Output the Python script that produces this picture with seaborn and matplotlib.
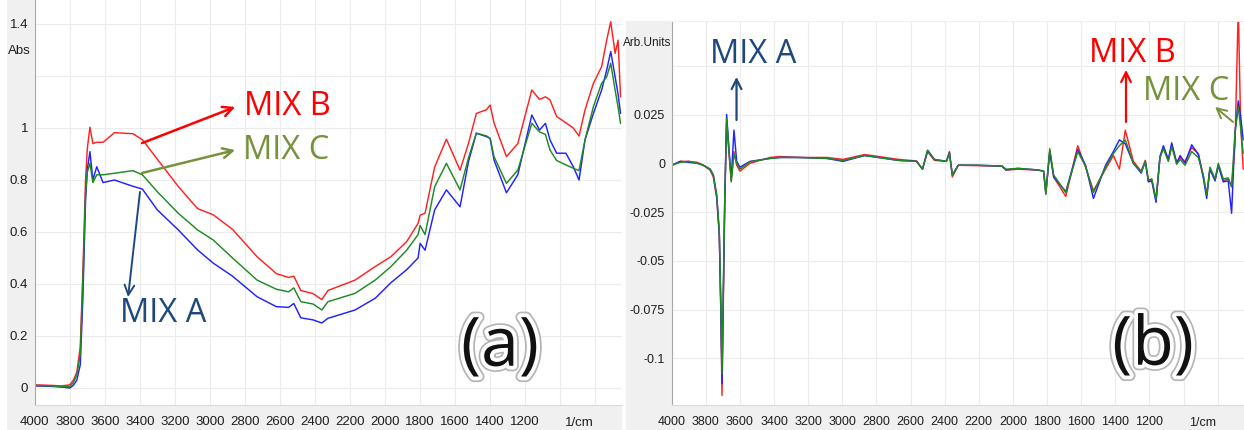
import matplotlib

matplotlib.use("Agg")
import matplotlib.patheffects as pe
import matplotlib.pyplot as plt
import pandas as pd
import seaborn as sns
from matplotlib.patches import Rectangle
from matplotlib.ticker import FixedFormatter, FixedLocator, MultipleLocator

# (a) absorbance spectra
ABS_WAVENUMBER = [
    4000, 3900, 3850, 3800, 3780, 3760, 3740, 3725, 3710, 3700, 3685, 3668, 3646,
    3610, 3545, 3440, 3385, 3300, 3180, 3070, 2980, 2870, 2730, 2620, 2550, 2520,
    2480, 2410, 2360, 2325, 2170, 2055, 1965, 1875, 1810, 1798, 1770, 1715, 1648,
    1570, 1522, 1477, 1420, 1398, 1376, 1305, 1240, 1160, 1116, 1082, 1056, 1018,
    965, 923, 890, 856, 808, 761, 732, 709, 684, 667, 653,
]
ABS_MIX_A = [
    0.008, 0.006, 0.004, 0.0, 0.01, 0.03, 0.09, 0.35, 0.72, 0.84, 0.909, 0.80, 0.851,
    0.79, 0.80, 0.776, 0.765, 0.685, 0.608, 0.531, 0.48, 0.43, 0.351, 0.313, 0.31, 0.325,
    0.27, 0.262, 0.25, 0.268, 0.30, 0.345, 0.405, 0.455, 0.50, 0.556, 0.53, 0.685, 0.762,
    0.697, 0.87, 0.98, 0.967, 0.96, 0.877, 0.751, 0.82, 1.05, 0.992, 1.018, 0.954, 0.903,
    0.903, 0.851, 0.80, 0.954, 1.056, 1.146, 1.223, 1.294, 1.197, 1.13, 1.056,
]
ABS_MIX_B = [
    0.012, 0.01, 0.008, 0.012, 0.03, 0.06, 0.16, 0.45, 0.80, 0.92, 1.003, 0.94, 0.945,
    0.945, 0.982, 0.978, 0.955, 0.88, 0.775, 0.69, 0.666, 0.61, 0.505, 0.44, 0.425, 0.43,
    0.375, 0.363, 0.34, 0.375, 0.415, 0.467, 0.505, 0.563, 0.633, 0.665, 0.672, 0.85, 0.957,
    0.838, 0.94, 1.056, 1.07, 1.088, 1.02, 0.89, 0.94, 1.146, 1.11, 1.12, 1.108, 1.044,
    1.02, 1.0, 0.969, 1.069, 1.172, 1.236, 1.338, 1.409, 1.287, 1.338, 1.12,
]
ABS_MIX_C = [
    0.01, 0.008, 0.004, 0.006, 0.02, 0.05, 0.13, 0.42, 0.75, 0.83, 0.864, 0.79, 0.82,
    0.82, 0.826, 0.836, 0.82, 0.755, 0.672, 0.608, 0.569, 0.50, 0.415, 0.38, 0.37, 0.385,
    0.332, 0.323, 0.30, 0.332, 0.364, 0.415, 0.467, 0.53, 0.59, 0.625, 0.59, 0.774, 0.864,
    0.762, 0.885, 0.98, 0.97, 0.96, 0.89, 0.787, 0.838, 1.018, 0.985, 0.975, 0.915, 0.875,
    0.858, 0.845, 0.836, 0.954, 1.082, 1.172, 1.197, 1.249, 1.146, 1.08, 1.018,
]

# (b) difference spectra
DIFF_WAVENUMBER = [
    4000, 3950, 3900, 3850, 3815, 3775, 3756, 3736, 3721, 3713, 3705, 3698, 3689,
    3678, 3664, 3651, 3635, 3619, 3600, 3541, 3424, 3365, 3254, 3090, 2996, 2869,
    2670, 2565, 2530, 2500, 2460, 2390, 2372, 2355, 2320, 2204, 2064, 2040, 1970,
    1854, 1820, 1807, 1784, 1761, 1690, 1620, 1574, 1528, 1457, 1411, 1376, 1341,
    1294, 1248, 1224, 1206, 1186, 1161, 1138, 1118, 1089, 1069, 1040, 1020, 991,
    952, 913, 884, 864, 845, 815, 796, 767, 738, 718, 698, 679, 665, 650,
]
DIFF_MIX_A = [
    -0.001, 0.001, 0.0005, 0.0, -0.001, -0.003, -0.006, -0.017, -0.036, -0.07, -0.113, -0.07, -0.019,
    0.025, 0.007, -0.008, 0.017, 0.001, -0.002, 0.001, 0.0025, 0.003, 0.003, 0.0025, 0.001, 0.004,
    0.0015, 0.001, -0.003, 0.0065, 0.002, 0.001, 0.0055, -0.006, -0.001, -0.001, -0.0014, -0.0034, -0.0026,
    -0.0034, -0.004, -0.015, 0.006, -0.007, -0.0145, 0.007, -0.001, -0.018, -0.001, 0.006, 0.012, 0.010,
    0.0, -0.005, 0.001, -0.0095, -0.009, -0.020, 0.0035, 0.009, 0.002, 0.0105, 0.0, 0.004, 0.0,
    0.0095, 0.0045, -0.0075, -0.018, -0.003, -0.009, -0.001, -0.0095, -0.009, -0.0256, 0.0154, 0.032, 0.024, 0.012,
]
DIFF_MIX_B = [
    -0.001, 0.001, 0.001, 0.0005, -0.001, -0.0035, -0.007, -0.018, -0.037, -0.072, -0.119, -0.075, -0.02,
    0.021, 0.005, -0.009, 0.006, -0.001, -0.004, 0.0, 0.003, 0.0035, 0.003, 0.003, 0.002, 0.0045,
    0.002, 0.0012, -0.003, 0.006, 0.0015, 0.001, 0.006, -0.007, -0.001, -0.0012, -0.0015, -0.0035, -0.003,
    -0.0035, -0.004, -0.0155, 0.0065, -0.007, -0.017, 0.009, -0.002, -0.014, -0.003, 0.004, -0.003, 0.017,
    0.001, -0.004, 0.0015, -0.009, -0.0085, -0.019, 0.003, 0.008, 0.0015, 0.0095, 0.0005, 0.003, 0.001,
    0.008, 0.005, -0.0065, -0.016, -0.0025, -0.0085, -0.001, -0.009, -0.008, -0.012, 0.010, 0.08, 0.02, -0.003,
]
DIFF_MIX_C = [
    -0.001, 0.0005, 0.001, 0.0, -0.0009, -0.003, -0.006, -0.016, -0.035, -0.068, -0.108, -0.068, -0.018,
    0.023, 0.006, -0.0095, 0.005, 0.0, -0.003, 0.0008, 0.0025, 0.003, 0.003, 0.0025, 0.0015, 0.004,
    0.0015, 0.001, -0.003, 0.0068, 0.002, 0.001, 0.005, -0.006, -0.001, -0.001, -0.0014, -0.003, -0.0026,
    -0.0034, -0.004, -0.016, 0.0075, -0.006, -0.015, 0.006, -0.0015, -0.015, -0.002, 0.005, 0.009, 0.012,
    0.0, -0.0045, 0.001, -0.0085, -0.008, -0.0185, 0.003, 0.0075, 0.001, 0.0085, -0.0005, 0.002, -0.001,
    0.006, 0.003, -0.006, -0.0165, -0.002, -0.008, 0.0, -0.008, -0.0075, -0.012, 0.016, 0.029, 0.018, 0.005,
]

MIX_NAMES = ["MIX A", "MIX B", "MIX C"]
X_TICKS = [4000, 3800, 3600, 3400, 3200, 3000, 2800, 2600, 2400, 2200, 2000, 1800, 1600, 1400, 1200, 1000, 800]
X_TICK_LABELS = ["4000", "3800", "3600", "3400", "3200", "3000", "2800", "2600", "2400",
                 "2200", "2000", "1800", "1600", "1400", "1200", "", ""]
ABS_Y_TICKS = [0, 0.2, 0.4, 0.6, 0.8, 1.0, 1.2, 1.4]
ABS_Y_LABELS = ["0", "0.2", "0.4", "0.6", "0.8", "1", "", "1.4"]
DIFF_Y_TICKS = [-0.1, -0.075, -0.05, -0.025, 0, 0.025, 0.05]
DIFF_Y_LABELS = ["-0.1", "-0.075", "-0.05", "-0.025", "0", "0.025", ""]

LINE_COLORS = {"MIX A": "#2222ff", "MIX B": "#ff2222", "MIX C": "#1f8a24"}
LABEL_COLORS = {"MIX A": "#1f497d", "MIX B": "#ff0000", "MIX C": "#76923c"}
GREY = "#f0f0f0"
TICK_FONT = ["Liberation Sans Narrow", "Liberation Sans", "DejaVu Sans"]
LABEL_FONT = ["Open Sans", "DejaVu Sans"]

W, H = 1244, 430


def long_frame(wavenumber, series):
    frames = [
        pd.DataFrame({"wavenumber": wavenumber, "value": values, "mix": name})
        for name, values in zip(MIX_NAMES, series)
    ]
    return pd.concat(frames, ignore_index=True)


def style_axes(ax, xlim, ylim, yticks, ylabels, y_minor, labelsize):
    ax.set_facecolor("white")
    ax.set_xlim(*xlim)
    ax.set_ylim(*ylim)
    ax.xaxis.set_major_locator(FixedLocator(X_TICKS))
    ax.xaxis.set_major_formatter(FixedFormatter(X_TICK_LABELS))
    ax.xaxis.set_minor_locator(MultipleLocator(50))
    ax.yaxis.set_major_locator(FixedLocator(yticks))
    ax.yaxis.set_major_formatter(FixedFormatter(ylabels))
    ax.yaxis.set_minor_locator(MultipleLocator(y_minor))
    ax.grid(True, which="major", color="#ececec", linewidth=0.8)
    ax.set_axisbelow(True)
    ax.set_xlabel("")
    ax.set_ylabel("")
    for side in ["top", "right"]:
        ax.spines[side].set_visible(False)
    ax.spines["left"].set_color("#a8a8a8")
    ax.spines["bottom"].set_color("#dadada")
    ax.tick_params(axis="both", which="both", direction="out", colors="#9a9a9a",
                   labelcolor="#1e1e1e", labelsize=labelsize, width=0.8)
    ax.tick_params(axis="x", which="major", length=4.5, pad=3.5)
    ax.tick_params(axis="x", which="minor", length=3)
    ax.tick_params(axis="y", which="major", length=3.5, pad=1.2)
    ax.tick_params(axis="y", which="minor", length=2.2)
    for label in ax.get_xticklabels() + ax.get_yticklabels():
        label.set_family(TICK_FONT)
    ax.annotate("1/cm", xy=(890, 0), xycoords=("data", "axes fraction"),
                xytext=(0, -13), textcoords="offset points", ha="center", va="center",
                fontsize=labelsize, color="#1e1e1e", family=TICK_FONT)


def draw_lines(ax, frame):
    sns.lineplot(data=frame, x="wavenumber", y="value", hue="mix",
                 hue_order=["MIX B", "MIX A", "MIX C"], palette=LINE_COLORS,
                 estimator=None, linewidth=1.05, legend=False, ax=ax)


def arrow_label(ax, name, text_xy, tail, head, lw=1.6):
    color = LABEL_COLORS[name]
    ax.text(*text_xy, name, color=color, fontsize=23.5, family=LABEL_FONT,
            ha="center", va="center")
    ax.annotate("", xy=head, xytext=tail,
                arrowprops=dict(arrowstyle="->,head_length=0.7,head_width=0.35",
                                color=color, lw=lw, shrinkA=0, shrinkB=0))


def panel_tag(fig, text, x, y):
    fig.text(x / W, 1 - y / H, text, fontsize=49, family=LABEL_FONT, color="#111111",
             fontweight="medium", ha="center", va="center",
             path_effects=[pe.Stroke(linewidth=8, foreground="#b5b5b5"),
                           pe.Stroke(linewidth=5.5, foreground="white"),
                           pe.Normal()])


sns.set_style("white")
plt.rcParams["font.family"] = LABEL_FONT

fig = plt.figure(figsize=(W / 100, H / 100), dpi=100, facecolor="white")
fig.add_artist(Rectangle((7 / W, 0), 615 / W, 1, transform=fig.transFigure,
                         facecolor=GREY, edgecolor="none", zorder=-1))
fig.add_artist(Rectangle((626 / W, 0), 618 / W, 1 - 20.7 / H, transform=fig.transFigure,
                         facecolor=GREY, edgecolor="none", zorder=-1))

ax_a = fig.add_axes([34.8 / W, 1 - 405 / H, (621.7 - 34.8) / W, 405 / H])
ax_b = fig.add_axes([671.7 / W, 1 - 405 / H, (W - 671.7) / W, (405 - 21.7) / H])

draw_lines(ax_a, long_frame(ABS_WAVENUMBER, [ABS_MIX_A, ABS_MIX_B, ABS_MIX_C]))
draw_lines(ax_b, long_frame(DIFF_WAVENUMBER, [DIFF_MIX_A, DIFF_MIX_B, DIFF_MIX_C]))

style_axes(ax_a, (4000, 646.3), (-0.0654, 1.4923), ABS_Y_TICKS, ABS_Y_LABELS, 0.04, 9.5)
style_axes(ax_b, (4000, 645.4), (-0.1239, 0.0726), DIFF_Y_TICKS, DIFF_Y_LABELS, 0.005, 9)

fig.text(19 / W, 1 - 51 / H, "Abs", fontsize=9.5, family=TICK_FONT, color="#1e1e1e",
         ha="center", va="center")
fig.text(647.5 / W, 1 - 42.7 / H, "Arb.Units", fontsize=8.5, family=TICK_FONT,
         color="#1e1e1e", ha="center", va="center")

arrow_label(ax_a, "MIX B", (2556, 1.083), (3387, 0.942), (2855, 1.081), lw=1.8)
arrow_label(ax_a, "MIX C", (2565, 0.915), (3387, 0.827), (2855, 0.915), lw=1.8)
arrow_label(ax_a, "MIX A", (3265, 0.2865), (3399, 0.754), (3467, 0.35), lw=1.4)

arrow_label(ax_b, "MIX A", (3520, 0.0558), (3620, 0.0222), (3620, 0.0443), lw=1.6)
arrow_label(ax_b, "MIX B", (1302, 0.0563), (1337, 0.0212), (1337, 0.0479), lw=1.6)
arrow_label(ax_b, "MIX C", (985, 0.0368), (710, 0.0212), (815, 0.0289), lw=1.4)

panel_tag(fig, "(a)", 500, 348)
panel_tag(fig, "(b)", 1153, 347)

fig.savefig("out.png", dpi=100, facecolor=fig.get_facecolor())
